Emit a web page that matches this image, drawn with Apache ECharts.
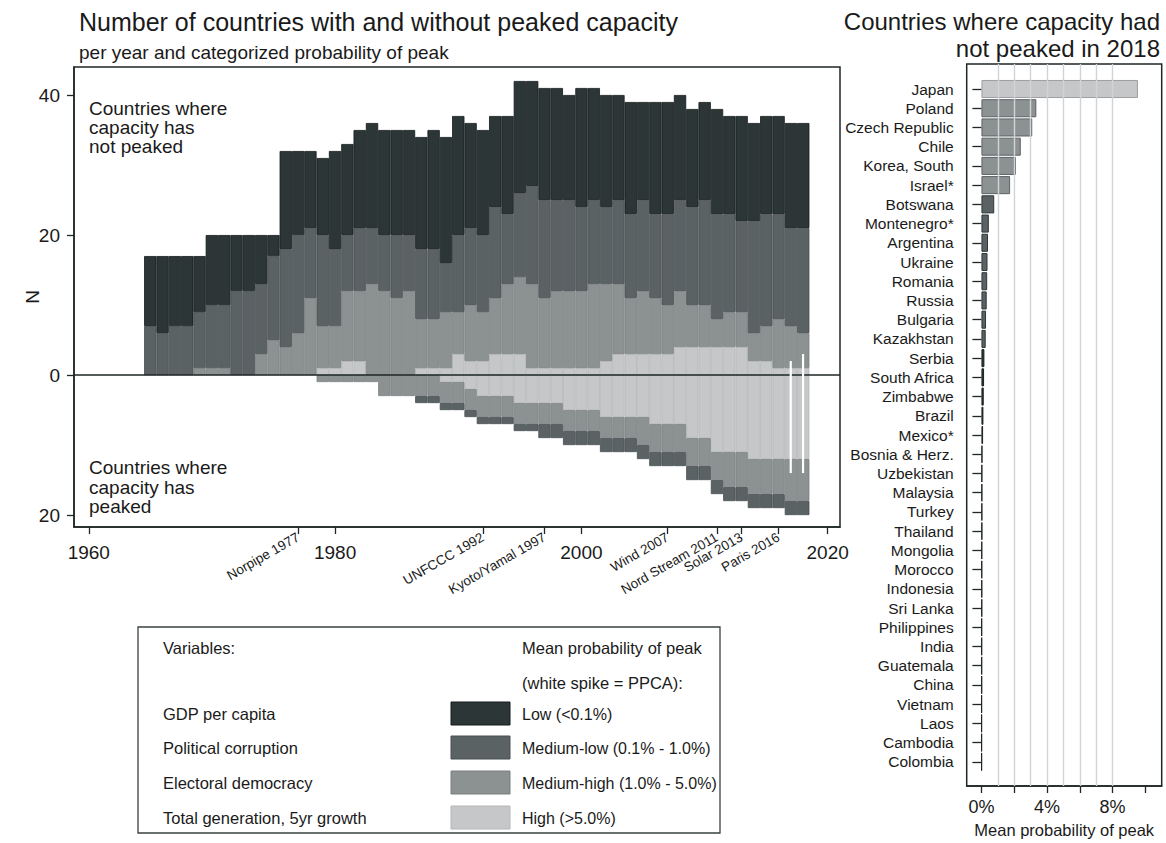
<!DOCTYPE html>
<html><head><meta charset="utf-8">
<script src="https://cdn.jsdelivr.net/npm/echarts@6/dist/echarts.min.js"></script>
<style>html,body{margin:0;padding:0;background:#fff}#c{width:1166px;height:843px}</style>
</head><body><div id="c"></div>
<script>
// ---------------- data ----------------
const years = ['1965','1966','1967','1968','1969','1970','1971','1972','1973','1974','1975','1976','1977','1978','1979','1980','1981','1982','1983','1984','1985','1986','1987','1988','1989','1990','1991','1992','1993','1994','1995','1996','1997','1998','1999','2000','2001','2002','2003','2004','2005','2006','2007','2008','2009','2010','2011','2012','2013','2014','2015','2016','2017','2018'];
// not peaked (positive side)
const posLow  = [10,11,10,10,8,10,10,8,8,7,3,14,12,11,11,14,13,14,15,15,15,15,16,17,18,17,15,15,13,14,16,15,16,16,15,17,16,16,15,16,14,16,16,15,14,14,15,14,15,14,14,14,15,15];
const posML   = [7,6,7,7,8,9,9,12,12,10,12,14,14,10,13,11,8,9,8,8,9,8,10,10,7,11,11,11,13,10,12,14,14,13,13,12,12,11,12,12,13,12,13,13,14,15,15,14,13,16,16,15,14,15];
const posMH   = [0,0,0,0,1,1,1,0,0,3,5,4,6,11,6,6,10,10,13,12,11,12,7,7,8,6,8,7,8,10,11,12,10,11,11,11,12,11,10,8,9,8,7,8,6,6,4,5,5,4,5,7,6,5];
const posHigh = [0,0,0,0,0,0,0,0,0,0,0,0,0,0,1,1,2,2,0,0,0,0,1,1,1,3,2,2,3,3,3,1,1,1,1,1,1,2,3,3,3,3,3,4,4,4,4,4,4,2,2,1,1,1];
// peaked (negative side, magnitudes)
const negHigh = [0,0,0,0,0,0,0,0,0,0,0,0,0,0,0,0,0,0,0,0,0,0,0,0,1,1,2,3,3,3,4,4,4,4,5,5,5,6,6,6,6,7,7,7,9,9,11,11,11,12,12,12,12,12];
const negMH   = [0,0,0,0,0,0,0,0,0,0,0,0,0,0,1,1,1,1,1,3,3,3,3,3,3,3,3,3,3,3,3,3,3,3,3,3,3,3,3,3,4,4,4,4,4,4,4,5,5,5,5,5,6,6];
const negML   = [0,0,0,0,0,0,0,0,0,0,0,0,0,0,0,0,0,0,0,0,0,0,1,1,1,1,1,1,1,1,1,1,2,2,2,2,2,2,2,2,2,2,2,2,2,2,2,2,2,2,2,2,2,2];
// PPCA white spikes
const ppcaYears  = [2017, 2018];
const ppcaTop    = [2, 3];
const ppcaBottom = [-14, -14];
// axis ticks / labels
const decadeTicks = [1960, 1980, 2000, 2020];
const eventYears  = [1977, 1992, 1997, 2007, 2011, 2013, 2016];
const eventNames  = ['Norpipe 1977', 'UNFCCC 1992', 'Kyoto/Yamal 1997', 'Wind 2007', 'Nord Stream 2011', 'Solar 2013', 'Paris 2016'];
const yTicks = [-20, 0, 20, 40];
// right panel
const countries = ['Japan','Poland','Czech Republic','Chile','Korea, South','Israel*','Botswana','Montenegro*','Argentina','Ukraine','Romania','Russia','Bulgaria','Kazakhstan','Serbia','South Africa','Zimbabwe','Brazil','Mexico*','Bosnia & Herz.','Uzbekistan','Malaysia','Turkey','Thailand','Mongolia','Morocco','Indonesia','Sri Lanka','Philippines','India','Guatemala','China','Vietnam','Laos','Cambodia','Colombia'];
const probPeak  = [9.55,3.35,3.1,2.4,2.1,1.75,0.78,0.45,0.4,0.37,0.35,0.32,0.28,0.26,0.18,0.16,0.14,0.12,0.1,0.06,0.05,0.05,0.05,0.05,0.04,0.04,0.04,0.04,0.03,0.03,0.03,0.03,0.02,0.02,0.02,0.02];
const probCat   = ['H','MH','MH','MH','MH','MH','ML','ML','ML','ML','ML','ML','ML','ML','L','L','L','L','L','L','L','L','L','L','L','L','L','L','L','L','L','L','L','L','L','L'];
const pctTicks  = [0, 2, 4, 6, 8, 10];
const pctLabels = [0, 4, 8];
const pctGrid   = [1, 2, 3, 4, 5, 6, 7, 8];
// legend texts
const legendVars   = ['GDP per capita', 'Political corruption', 'Electoral democracy', 'Total generation, 5yr growth'];
const legendLevels = ['Low (<0.1%)', 'Medium-low (0.1% - 1.0%)', 'Medium-high (1.0% - 5.0%)', 'High (>5.0%)'];
const legendKeys   = ['L', 'ML', 'MH', 'H'];

// ---------------- style ----------------
const FONT = '"Liberation Sans", Arial, Helvetica, sans-serif';
const INK = '#1a1a1a';
const AX = '#1e2626';
const C  = {L:'#2c3636', ML:'#5a6264', MH:'#8c9192', H:'#c6c7c9'};
const B  = {L:'#141b1b', ML:'#464e50', MH:'#7b8081', H:'#b4b6b8'};
const RB = {L:'#1a2222', ML:'#2e3636', MH:'#5c6264', H:'#9c9ea0'};
const YMIN = -21.7, YMAX = 44;

function stackSeries(arr, sign, key) {
  return {
    type: 'bar', stack: 'all', stackStrategy: 'samesign',
    xAxisIndex: 2, yAxisIndex: 2, barCategoryGap: 0,
    data: arr.map(v => (v ? sign * v : '-')),
    itemStyle: { color: C[key], borderColor: B[key], borderWidth: 0.8 },
    z: 2, silent: true
  };
}

const series = [
  { type: 'line', xAxisIndex: 0, yAxisIndex: 0, data: [], z: 1, silent: true,
    markLine: { symbol: 'none', silent: true, label: {show: false}, animation: false,
      lineStyle: { color: AX, width: 1.6, type: 'solid' }, data: [{ yAxis: 0 }] } },
  stackSeries(posHigh, 1, 'H'),
  stackSeries(posMH, 1, 'MH'),
  stackSeries(posML, 1, 'ML'),
  stackSeries(posLow, 1, 'L'),
  stackSeries(negHigh, -1, 'H'),
  stackSeries(negMH, -1, 'MH'),
  stackSeries(negML, -1, 'ML'),
  ...ppcaYears.map((yr, i) => ({
    type: 'line', xAxisIndex: 0, yAxisIndex: 0, symbol: 'none', silent: true, z: 6,
    data: [[yr, ppcaTop[i]], [yr, ppcaBottom[i]]],
    lineStyle: { color: '#ffffff', width: 2.2 }
  })),
  { type: 'line', xAxisIndex: 3, yAxisIndex: 3, data: [], z: 1, silent: true,
    markLine: { symbol: 'none', silent: true, label: {show: false}, animation: false,
      lineStyle: { color: '#d0d4da', width: 1.4, type: 'solid' },
      data: pctGrid.map(v => ({ xAxis: v })) } },
  { type: 'bar', xAxisIndex: 4, yAxisIndex: 4, barCategoryGap: '6%', z: 3, silent: true,
    data: probPeak.map((v, i) => ({ value: v,
      itemStyle: { color: C[probCat[i]], borderColor: RB[probCat[i]], borderWidth: 1 } })) }
];

function txt(x, y, s, size, align) {
  return { type: 'text', x: x, y: y, silent: true,
    style: { text: s, fill: INK, font: size + 'px ' + FONT, align: align || 'left', verticalAlign: 'middle' } };
}

const graphics = [
  txt(79, 22, 'Number of countries with and without peaked capacity', 25),
  txt(79, 52, 'per year and categorized probability of peak', 19),
  txt(1160, 21, 'Countries where capacity had', 24, 'right'),
  txt(1160, 48, 'not peaked in 2018', 24, 'right'),
  txt(89, 108, 'Countries where', 19),
  txt(89, 127, 'capacity has', 19),
  txt(89, 146, 'not peaked', 19),
  txt(89, 467, 'Countries where', 19),
  txt(89, 487, 'capacity has', 19),
  txt(89, 506, 'peaked', 19),
  { type: 'rect', shape: { x: 138, y: 627, width: 582, height: 206 }, silent: true,
    style: { fill: '#ffffff', stroke: '#3a4040', lineWidth: 1.3 } },
  txt(163, 648, 'Variables:', 16.5),
  txt(522, 648, 'Mean probability of peak', 16.5),
  txt(522, 683, '(white spike = PPCA):', 16.5)
];
const rowY = [714, 748, 783, 818];
legendVars.forEach((s, i) => graphics.push(txt(163, rowY[i], s, 16.5)));
legendLevels.forEach((s, i) => {
  graphics.push({ type: 'rect', shape: { x: 451, y: rowY[i] - 12, width: 59, height: 23 }, silent: true,
    style: { fill: C[legendKeys[i]], stroke: B[legendKeys[i]], lineWidth: 1 } });
  graphics.push(txt(522, rowY[i], s, 16));
});

const option = {
  animation: false,
  backgroundColor: '#ffffff',
  textStyle: { fontFamily: FONT, color: INK },
  grid: [
    { left: 74, top: 67, width: 766, height: 460, show: true, borderColor: AX, borderWidth: 1.5 },
    { left: 144.1, top: 67, width: 665.3, height: 460 },
    { left: 966.7, top: 64, width: 195, height: 722.7, show: true, borderColor: AX, borderWidth: 1.5 },
    { left: 966.7, top: 79.4, width: 195, height: 692 }
  ],
  xAxis: [
    { gridIndex: 0, type: 'value', min: 1958.8, max: 2021, position: 'bottom',
      axisLine: { show: true, onZero: false, lineStyle: { color: AX, width: 1.5 } },
      axisTick: { show: true, customValues: decadeTicks.concat(eventYears), length: 7, lineStyle: { color: AX, width: 1.3 } },
      axisLabel: { customValues: decadeTicks, formatter: v => String(Math.round(v)), fontSize: 19, color: INK, fontFamily: FONT, margin: 16 },
      splitLine: { show: false } },
    { gridIndex: 0, type: 'value', min: 1958.8, max: 2021, position: 'bottom',
      axisLine: { show: false }, axisTick: { show: false },
      axisLabel: { customValues: eventYears, rotate: 30, fontSize: 13.5, color: INK, fontFamily: FONT, margin: 9,
        formatter: v => eventNames[eventYears.indexOf(Math.round(v))] },
      splitLine: { show: false } },
    { gridIndex: 1, type: 'category', data: years, boundaryGap: true, show: false },
    { gridIndex: 2, type: 'value', min: -0.9, max: 11, position: 'bottom',
      axisLine: { show: true, onZero: false, lineStyle: { color: AX, width: 1.5 } },
      axisTick: { show: true, customValues: pctTicks, length: 7, lineStyle: { color: AX, width: 1.3 } },
      axisLabel: { customValues: pctLabels, formatter: v => Math.round(v) + '%', fontSize: 18, color: INK, fontFamily: FONT, margin: 12 },
      name: 'Mean probability of peak', nameLocation: 'middle', nameGap: 35, nameMoveOverlap: false,
      nameTextStyle: { fontSize: 16.5, color: INK, fontFamily: FONT },
      splitLine: { show: false } },
    { gridIndex: 3, type: 'value', min: -0.9, max: 11, show: false }
  ],
  yAxis: [
    { gridIndex: 0, type: 'value', min: YMIN, max: YMAX,
      axisLine: { show: true, onZero: false, lineStyle: { color: AX, width: 1.5 } },
      axisTick: { show: true, customValues: yTicks, length: 7, lineStyle: { color: AX, width: 1.3 } },
      axisLabel: { customValues: yTicks, formatter: v => String(Math.abs(Math.round(v))), fontSize: 19, color: INK, fontFamily: FONT, margin: 14 },
      name: 'N', nameLocation: 'middle', nameGap: 32, nameRotate: 90, nameMoveOverlap: false,
      nameTextStyle: { fontSize: 19, color: INK, fontFamily: FONT },
      splitLine: { show: false } },
    { gridIndex: 0, type: 'value', min: YMIN, max: YMAX, show: false },
    { gridIndex: 1, type: 'value', min: YMIN, max: YMAX, show: false },
    { gridIndex: 2, type: 'value', min: 0, max: 1, show: false },
    { gridIndex: 3, type: 'category', data: countries, inverse: true,
      axisLine: { show: false },
      axisTick: { show: true, alignWithLabel: true, length: 9, lineStyle: { color: AX, width: 1.3 } },
      axisLabel: { interval: 0, fontSize: 15.5, color: INK, fontFamily: FONT, margin: 13 },
      splitLine: { show: false } }
  ],
  series: series,
  graphic: graphics
};

const chart = echarts.init(document.getElementById('c'), null, { renderer: 'svg' });
chart.setOption(option);
</script>
</body></html>
